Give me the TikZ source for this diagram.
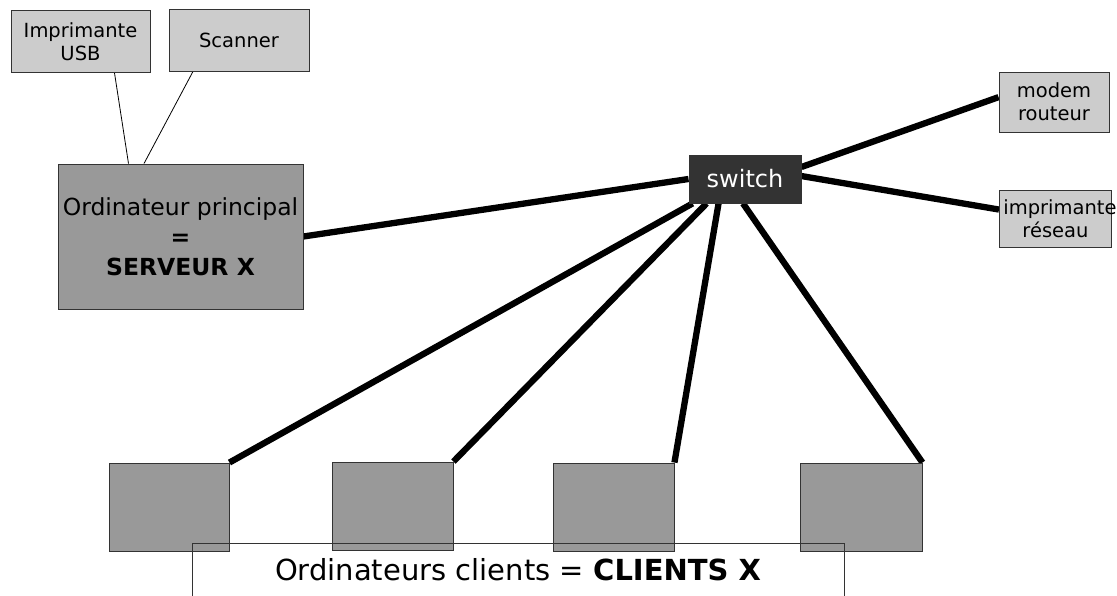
\documentclass[tikz,border=0pt]{standalone}
\usepackage{fontspec}
\setmainfont{DejaVu Sans}
\usetikzlibrary{backgrounds}
\definecolor{lightbox}{HTML}{CCCCCC}
\definecolor{midbox}{HTML}{999999}
\definecolor{darkbox}{HTML}{333333}
\definecolor{edgecol}{HTML}{333333}
\begin{document}
\begin{tikzpicture}[x=1pt,y=-1pt,
  box/.style={draw=edgecol, line width=0.9pt, inner sep=0pt, align=center, rectangle},
  smallbox/.style={box, fill=lightbox, font=\fontsize{19.5}{23}\selectfont},
  client/.style={box, fill=midbox, minimum height=88pt},
  thicklink/.style={line width=6.3pt, black},
  thinlink/.style={line width=0.8pt, black}]
\useasboundingbox (0,0) rectangle (1117,596);
% devices
\node[smallbox, minimum width=139pt, minimum height=62pt] (usb) at (80.5,41.5) {Imprimante\\USB};
\node[smallbox, minimum width=140pt, minimum height=62pt] (scn) at (239,40) {Scanner};
\node[box, fill=midbox, minimum width=245pt, minimum height=145pt,
      font=\fontsize{23.5}{30}\selectfont] (srv) at (180.5,236.5)
      {Ordinateur principal\\\textbf{=}\\\textbf{SERVEUR X}};
\node[box, fill=darkbox, text=white, minimum width=112pt, minimum height=48pt,
      font=\fontsize{24}{28}\selectfont] (sw) at (745,179) {switch};
\node[smallbox, minimum width=110pt, minimum height=60pt] (mod) at (1054,102) {modem\\routeur};
\node[smallbox, inner xsep=-5pt, minimum width=109pt, minimum height=57pt] (imp) at (1055.5,218.5) {\hspace*{9pt}imprimante\\réseau};
% clients
\node[client, minimum width=120pt] (c1) at (169,507) {};
\node[client, minimum width=121pt] (c2) at (392.5,506) {};
\node[client, minimum width=121pt] (c3) at (613.5,507) {};
\node[client, minimum width=122pt] (c4) at (861,507) {};
% clients label
\node[draw=edgecol, line width=0.9pt, minimum width=652pt, minimum height=90pt, anchor=north, inner sep=0pt] (frame) at (518,543) {};
\node[anchor=base, inner sep=0pt, font=\fontsize{29}{34}\selectfont] (lbl) at (518,580) {Ordinateurs clients = \textbf{CLIENTS X}};
% connectors
\begin{scope}[on background layer]
\fill[white] (0,0) rectangle (1117,596);
\draw[thinlink] ([xshift=34pt]usb.south) -- ([xshift=-52pt]srv.north);
\draw[thinlink] ([xshift=-46pt]scn.south) -- ([xshift=-36.5pt]srv.north);
\draw[thicklink] (srv.east) -- (sw.west);
\draw[thicklink] (sw.12) -- (mod.175);
\draw[thicklink] (sw.3) -- (imp.171);
\draw[thicklink] ([xshift=4pt]sw.south west) -- (c1.north east);
\draw[thicklink] ([xshift=18pt]sw.south west) -- (c2.north east);
\draw[thicklink] ([xshift=30pt]sw.south west) -- (c3.north east);
\draw[thicklink] ([xshift=-2pt]sw.south) -- (c4.north east);
\end{scope}
\end{tikzpicture}
\end{document}
